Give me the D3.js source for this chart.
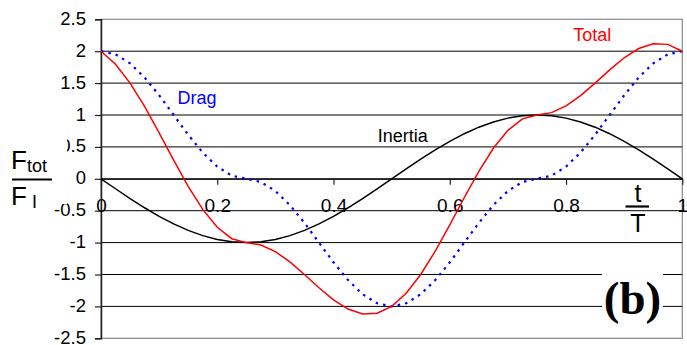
<!DOCTYPE html>
<html>
<head>
<meta charset="utf-8">
<script src="https://cdn.jsdelivr.net/npm/d3@7"></script>
<style>
  html, body { margin: 0; padding: 0; background: #fff; }
  svg { display: block; }
</style>
</head>
<body>
<svg id="chart" width="687" height="345"></svg>
<script>
// Phase t/T sampled every 0.025
const phase = [0, 0.025, 0.05, 0.075, 0.1, 0.125, 0.15, 0.175, 0.2, 0.225,
  0.25, 0.275, 0.3, 0.325, 0.35, 0.375, 0.4, 0.425, 0.45, 0.475,
  0.5, 0.525, 0.55, 0.575, 0.6, 0.625, 0.65, 0.675, 0.7, 0.725,
  0.75, 0.775, 0.8, 0.825, 0.85, 0.875, 0.9, 0.925, 0.95, 0.975, 1];

// Inertia force ratio
const inertia = [0, -0.156, -0.309, -0.454, -0.588, -0.707, -0.809, -0.891, -0.951, -0.988,
  -1, -0.988, -0.951, -0.891, -0.809, -0.707, -0.588, -0.454, -0.309, -0.156,
  0, 0.156, 0.309, 0.454, 0.588, 0.707, 0.809, 0.891, 0.951, 0.988,
  1, 0.988, 0.951, 0.891, 0.809, 0.707, 0.588, 0.454, 0.309, 0.156, 0];

// Drag force ratio
const drag = [2, 1.951, 1.809, 1.588, 1.309, 1.0, 0.691, 0.412, 0.191, 0.049,
  0, -0.049, -0.191, -0.412, -0.691, -1.0, -1.309, -1.588, -1.809, -1.951,
  -2, -1.951, -1.809, -1.588, -1.309, -1.0, -0.691, -0.412, -0.191, -0.049,
  0, 0.049, 0.191, 0.412, 0.691, 1.0, 1.309, 1.588, 1.809, 1.951, 2];

// Total force ratio
const total = [2, 1.795, 1.5, 1.134, 0.721, 0.293, -0.118, -0.479, -0.76, -0.939,
  -1.0, -1.037, -1.142, -1.303, -1.5, -1.707, -1.897, -2.042, -2.118, -2.107,
  -2.0, -1.795, -1.5, -1.134, -0.721, -0.293, 0.118, 0.479, 0.76, 0.939,
  1.0, 1.037, 1.142, 1.303, 1.5, 1.707, 1.897, 2.042, 2.118, 2.107, 2.0];

const xTicks = [0, 0.2, 0.4, 0.6, 0.8, 1];
const xTickLabels = ["0", "0.2", "0.4", "0.6", "0.8", "1"];
const yTicks = [2.5, 2, 1.5, 1, 0.5, 0, -0.5, -1, -1.5, -2, -2.5];
const yTickLabels = ["2.5", "2", "1.5", "1", "0.5", "0", "-0.5", "-1", "-1.5", "-2", "-2.5"];

const svg = d3.select("#chart");
const x = d3.scaleLinear().domain([0, 1]).range([101, 682.3]);
const y = d3.scaleLinear().domain([-2.5, 2.5]).range([338.3, 19.3]);

const sans = "'Liberation Sans', Arial, sans-serif";

// Plot-area frame
svg.append("rect")
  .attr("x", x(0)).attr("y", y(2.5))
  .attr("width", x(1) - x(0)).attr("height", y(-2.5) - y(2.5))
  .attr("fill", "none").attr("stroke", "#8a8a8a").attr("stroke-width", 1.2);

// Horizontal gridlines
svg.append("g").selectAll("line")
  .data(yTicks.filter(v => Math.abs(v) < 2.5))
  .join("line")
  .attr("x1", x(0)).attr("x2", x(1))
  .attr("y1", d => y(d)).attr("y2", d => y(d))
  .attr("stroke", "#000").attr("stroke-width", 1);

// Y axis
const yAxis = d3.axisLeft(y).tickValues(yTicks).tickSize(6)
  .tickFormat((d, i) => yTickLabels[i]);
const gy = svg.append("g").attr("transform", `translate(${x(0)},0)`).call(yAxis);
gy.select(".domain").attr("stroke", "#222").attr("stroke-width", 1.5);
gy.selectAll(".tick line").attr("stroke", "#222").attr("stroke-width", 1.2);
gy.selectAll(".tick text")
  .attr("x", -15).attr("dy", "0.27em")
  .attr("font-family", sans).attr("font-size", 18.5).attr("fill", "#000");

// X axis along zero
const xAxis = d3.axisBottom(x).tickValues(xTicks).tickSize(6).tickSizeOuter(0)
  .tickFormat((d, i) => xTickLabels[i]);
const gx = svg.append("g").attr("transform", `translate(0,${y(0)})`).call(xAxis);
gx.select(".domain").attr("stroke", "#222").attr("stroke-width", 1.5);
gx.selectAll(".tick line").attr("stroke", "#222").attr("stroke-width", 1.2);
gx.selectAll(".tick text")
  .attr("y", 33.5).attr("dy", 0)
  .attr("font-family", sans).attr("font-size", 19).attr("fill", "#000");

// Curves
const line = vals => d3.line()
  .x((d, i) => x(phase[i]))
  .y(d => y(d))(vals);

svg.append("path").attr("d", line(inertia))
  .attr("fill", "none").attr("stroke", "#000").attr("stroke-width", 1.5);
svg.append("path").attr("d", line(drag))
  .attr("fill", "none").attr("stroke", "#0000ff").attr("stroke-width", 2.2)
  .attr("stroke-dasharray", "2.5,5");
svg.append("path").attr("d", line(total))
  .attr("fill", "none").attr("stroke", "#ff0000").attr("stroke-width", 1.5);

// Series labels
const seriesLabels = [
  { text: "Total", t: 0.8125, v: 2.155, color: "#ff0000" },
  { text: "Drag", t: 0.1317, v: 1.168, color: "#0000ff" },
  { text: "Inertia", t: 0.476, v: 0.577, color: "#000" }
];
svg.append("g").selectAll("text").data(seriesLabels).join("text")
  .attr("x", d => x(d.t)).attr("y", d => y(d.v))
  .attr("font-family", sans).attr("font-size", 18)
  .attr("fill", d => d.color)
  .text(d => d.text);

// Y-axis title: F_tot / F_I
svg.append("rect").attr("x", 0).attr("y", 137).attr("width", 67).attr("height", 67).attr("fill", "#fff");
const yTitle = svg.append("g").attr("font-family", sans).attr("fill", "#000");
yTitle.append("text").attr("x", 11).attr("y", 169).attr("font-size", 26)
  .text("F").append("tspan").attr("font-size", 18).attr("dy", 3).text("tot");
yTitle.append("line").attr("x1", 12).attr("x2", 52).attr("y1", 179.5).attr("y2", 179.5)
  .attr("stroke", "#000").attr("stroke-width", 2);
yTitle.append("text").attr("x", 11).attr("y", 205).attr("font-size", 26)
  .text("F").append("tspan").attr("font-size", 18).attr("dx", 5).attr("dy", 3).text("I");

// X-axis title: t / T
const xTitle = svg.append("g").attr("font-family", sans).attr("fill", "#000").attr("text-anchor", "middle");
xTitle.append("text").attr("x", 638).attr("y", 201.5).attr("font-size", 25).text("t");
xTitle.append("line").attr("x1", 625.5).attr("x2", 649).attr("y1", 206.5).attr("y2", 206.5)
  .attr("stroke", "#000").attr("stroke-width", 2.2);
xTitle.append("text").attr("x", 638).attr("y", 231.5).attr("font-size", 25).text("T");

// Panel tag
svg.append("rect").attr("x", 602).attr("y", 268).attr("width", 61).attr("height", 58).attr("fill", "#fff");
svg.append("text").attr("x", 632.5).attr("y", 314).attr("text-anchor", "middle")
  .attr("font-family", "'Liberation Serif', 'Times New Roman', serif")
  .attr("font-weight", "bold").attr("font-size", 47).attr("fill", "#000")
  .text("(b)");
</script>
</body>
</html>
